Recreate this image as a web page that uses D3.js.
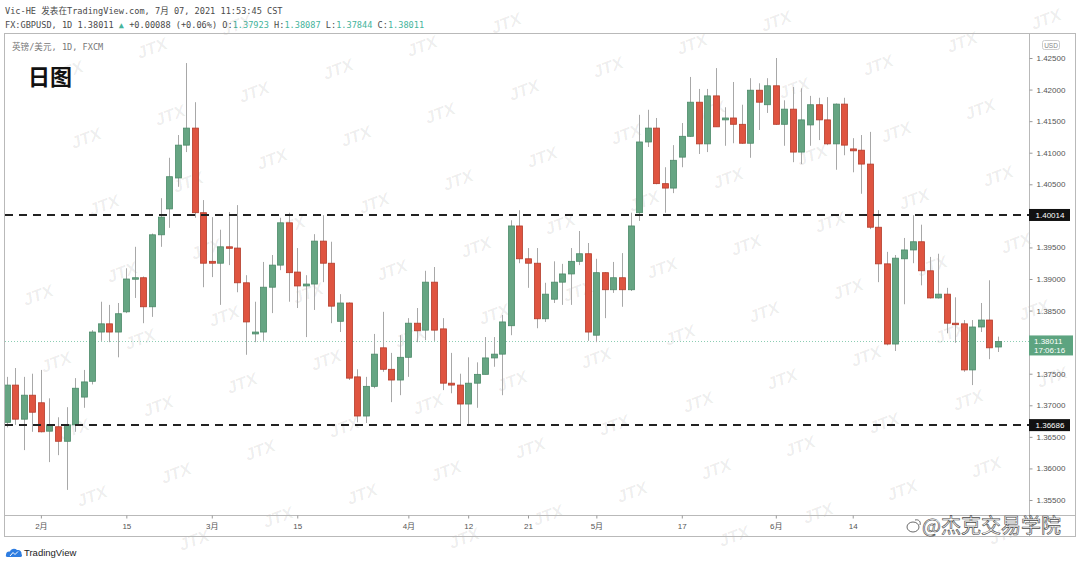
<!DOCTYPE html>
<html>
<head>
<meta charset="utf-8">
<script src="https://cdn.jsdelivr.net/npm/d3@7"></script>
<style>
body { margin: 0; background: #fff; }
svg { display: block; }
</style>
</head>
<body>
<div id="container"></div>
<script>
// daily GBP/USD candles, 26 Jan -> 7 Jul 2021
const opens = [1.3673,1.3732,1.3678,1.3716,1.3704,1.3659,1.3666,1.3643,1.3669,1.3713,
  1.3738,1.3816,1.3829,1.3816,1.3848,1.3900,1.3902,1.3856,1.3970,1.4011,
  1.4060,1.4112,1.4139,1.4005,1.3928,1.3925,1.3951,1.3949,1.3894,1.3813,
  1.3816,1.3887,1.3922,1.3989,1.3911,1.3889,1.3892,1.3960,1.3925,1.3833,
  1.3862,1.3745,1.3683,1.3730,1.3791,1.3757,1.3740,1.3776,1.3830,1.3819,
  1.3895,1.3821,1.3735,1.3732,1.3702,1.3735,1.3749,1.3775,1.3781,1.3826,
  1.3984,1.3932,1.3925,1.3837,1.3868,1.3895,1.3908,1.3928,1.3940,1.3811,
  1.3910,1.3883,1.3902,1.3883,1.4005,1.4117,1.4139,1.4051,1.4044,1.4093,
  1.4126,1.4180,1.4114,1.4190,1.4152,1.4155,1.4145,1.4115,1.4199,1.4176,
  1.4206,1.4145,1.4169,1.4101,1.4144,1.4176,1.4152,1.4114,1.4177,1.4106,
  1.4104,1.4082,1.3982,1.3924,1.3797,1.3932,1.3946,1.3959,1.3913,1.3870,
  1.3876,1.3830,1.3829,1.3756,1.3824,1.3835,1.37923];
const highs = [1.3745,1.3759,1.3745,1.3750,1.3756,1.3711,1.3681,1.3697,1.3743,1.3756,
  1.3819,1.3864,1.3859,1.3862,1.3917,1.3951,1.3904,1.3972,1.4028,1.4092,
  1.4128,1.4242,1.4180,1.4025,1.3998,1.3978,1.4006,1.4017,1.3906,1.3864,
  1.3927,1.3938,1.3997,1.4005,1.3949,1.3906,1.3971,1.4001,1.3959,1.3876,
  1.3863,1.3757,1.3745,1.3813,1.3848,1.3783,1.3811,1.3838,1.3854,1.3913,
  1.3919,1.3838,1.3783,1.3750,1.3776,1.3768,1.3808,1.3808,1.3843,1.3993,
  1.4009,1.3949,1.3949,1.3894,1.3928,1.3924,1.3949,1.3976,1.3957,1.3932,
  1.3911,1.3927,1.3941,1.4005,1.4160,1.4168,1.4155,1.4077,1.4112,1.4147,
  1.4220,1.4201,1.4201,1.4234,1.4172,1.4212,1.4176,1.4218,1.4210,1.4218,
  1.4250,1.4183,1.4204,1.4202,1.4190,1.4187,1.4188,1.4178,1.4187,1.4123,
  1.4128,1.4133,1.4009,1.3943,1.3938,1.3965,1.4001,1.3986,1.3935,1.3940,
  1.3886,1.3871,1.3835,1.3835,1.3862,1.3898,1.38087];
const lows = [1.3665,1.3669,1.3629,1.3658,1.3657,1.3610,1.3621,1.3566,1.3658,1.3696,
  1.3733,1.3802,1.3800,1.3776,1.3846,1.3870,1.3830,1.3840,1.3951,1.3981,
  1.4046,1.4101,1.3997,1.3887,1.3903,1.3859,1.3922,1.3879,1.3780,1.3800,
  1.3802,1.3846,1.3914,1.3864,1.3854,1.3808,1.3851,1.3895,1.3830,1.3816,
  1.3740,1.3673,1.3672,1.3727,1.3753,1.3705,1.3716,1.3745,1.3800,1.3803,
  1.3802,1.3724,1.3719,1.3669,1.3669,1.3696,1.3749,1.3761,1.3716,1.3811,
  1.3925,1.3886,1.3822,1.3832,1.3862,1.3859,1.3859,1.3922,1.3802,1.3800,
  1.3838,1.3878,1.3856,1.3881,1.3992,1.4109,1.4050,1.4005,1.4036,1.4077,
  1.4125,1.4098,1.4101,1.4141,1.4111,1.4115,1.4114,1.4092,1.4136,1.4163,
  1.4144,1.4111,1.4085,1.4082,1.4111,1.4120,1.4112,1.4073,1.4096,1.4069,
  1.4035,1.3979,1.3895,1.3795,1.3786,1.3860,1.3925,1.3890,1.3869,1.3869,
  1.3814,1.3799,1.3753,1.3732,1.3816,1.3773,1.37844];
const closes = [1.3732,1.3678,1.3716,1.3689,1.3658,1.3669,1.3643,1.3669,1.3727,1.3737,
  1.3816,1.3829,1.3816,1.3845,1.3900,1.3902,1.3856,1.3970,1.3998,1.4062,
  1.4112,1.4139,1.4005,1.3925,1.3925,1.3951,1.3949,1.3894,1.3832,1.3816,
  1.3887,1.3922,1.3989,1.3910,1.3889,1.3892,1.3960,1.3925,1.3857,1.3862,
  1.3743,1.3683,1.3730,1.3781,1.3757,1.3740,1.3776,1.3830,1.3818,1.3895,
  1.3819,1.3735,1.3732,1.3702,1.3735,1.3749,1.3775,1.3781,1.3832,1.3984,
  1.3932,1.3925,1.3837,1.3876,1.3895,1.3908,1.3928,1.3940,1.3816,1.3910,
  1.3883,1.3902,1.3883,1.3984,1.4117,1.4139,1.4051,1.4044,1.4088,1.4126,
  1.4180,1.4114,1.4190,1.4141,1.4155,1.4145,1.4115,1.4199,1.4180,1.4206,
  1.4145,1.4169,1.4101,1.4152,1.4176,1.4152,1.4114,1.4177,1.4112,1.4103,
  1.4082,1.3982,1.3924,1.3797,1.3933,1.3946,1.3959,1.3913,1.3870,1.3876,
  1.3830,1.3829,1.3756,1.3824,1.3835,1.3791,1.38011];

// time axis: bar index of each labelled day
const tickIdx = [4, 14, 24, 34, 47, 54, 61, 69, 79, 90, 99];
const tickLabels = ["2月", "15", "3月", "15", "4月", "12", "21", "5月", "17", "6月", "14"];

const priceTicks = [1.425, 1.42, 1.415, 1.41, 1.405, 1.40, 1.395, 1.39, 1.385, 1.38, 1.375, 1.37, 1.365, 1.36, 1.355];
const levels = [1.40014, 1.36686];
const lastPrice = 1.38011;

const W = 1080, H = 564;
const upFill = "#66a583", upLine = "#4c8a69";
const downFill = "#df5440", downLine = "#b43c2b";
const mono = "'DejaVu Sans Mono', 'Noto Sans CJK SC', monospace";
const sans = "'Liberation Sans', Arial, 'Noto Sans CJK SC', sans-serif";
const fmt = d3.format(".5f");

const svg = d3.select("#container").append("svg")
    .attr("width", W).attr("height", H)
    .style("background", "#fff");

const x = d3.scaleLinear().domain([0, opens.length - 1]).range([6.7, 998]);
const y = d3.scaleLinear().domain([1.355, 1.425]).range([500, 58]);

// header
svg.append("text").attr("x", 5).attr("y", 13.5)
    .style("font-family", mono).style("font-size", "8.6px").attr("fill", "#4a4a4a")
    .text("Vic-HE 发表在TradingView.com, 7月 07, 2021 11:53:45 CST");

const head2 = svg.append("text").attr("x", 5).attr("y", 27.5)
    .style("font-family", mono).style("font-size", "8.6px").attr("fill", "#4a4a4a");
const teal = "#45b49c";
[["FX:GBPUSD, 1D 1.38011 ", null], ["▲", teal], [" +0.00088 (+0.06%) O:", null], ["1.37923", teal],
 [" H:", null], ["1.38087", teal], [" L:", null], ["1.37844", teal], [" C:", null], ["1.38011", teal]]
    .forEach(p => {
        const t = head2.append("tspan").text(p[0]);
        if (p[1]) t.attr("fill", p[1]);
    });

// JTX watermark grid (behind the marks)
const marks = [];
for (let i = -4; i < 16; i++) {
    for (let j = -4; j < 10; j++) {
        const mx = 20 + 84 * i + 18 * j, my = 228 - 23 * i + 67 * j;
        if (mx > 22 && mx < W - 22 && my > 14 && my < H - 12) marks.push([mx, my]);
    }
}
svg.append("g").selectAll("text").data(marks).enter().append("text")
    .attr("transform", d => `translate(${d[0]},${d[1]}) rotate(-20)`)
    .attr("text-anchor", "middle").attr("dy", "0.35em")
    .style("font-family", sans).style("font-size", "17px").style("font-weight", 700)
    .style("font-style", "italic").attr("fill", "#000").attr("fill-opacity", 0.07)
    .text("JTX");

// pane frame
svg.append("rect").attr("x", 4.5).attr("y", 33.5).attr("width", 1071).attr("height", 503)
    .attr("fill", "none").attr("stroke", "#b9b9b9");
svg.append("line").attr("x1", 1029.5).attr("x2", 1029.5).attr("y1", 33.5).attr("y2", 536.5)
    .attr("stroke", "#b9b9b9");
svg.append("line").attr("x1", 4.5).attr("x2", 1075.5).attr("y1", 515.5).attr("y2", 515.5)
    .attr("stroke", "#b9b9b9");

svg.append("text").attr("x", 12).attr("y", 49.5)
    .style("font-family", mono).style("font-size", "8.6px").attr("fill", "#777")
    .text("英镑/美元, 1D, FXCM");

svg.append("text").attr("x", 28).attr("y", 85)
    .style("font-family", "'Noto Sans CJK SC', sans-serif").style("font-size", "22px")
    .style("font-weight", 700).attr("fill", "#111")
    .text("日图");

svg.append("defs").append("clipPath").attr("id", "plot")
    .append("rect").attr("x", 5).attr("y", 34).attr("width", 1024).attr("height", 481);

const plot = svg.append("g").attr("clip-path", "url(#plot)");

// last price dotted line
plot.append("line").attr("x1", 5).attr("x2", 1029)
    .attr("y1", Math.round(y(lastPrice)) + 0.5).attr("y2", Math.round(y(lastPrice)) + 0.5)
    .attr("stroke", "#8ccdb3").attr("stroke-dasharray", "1,2");

// candles
const bars = d3.range(opens.length).map(i => ({
    i, o: opens[i], h: highs[i], l: lows[i], c: closes[i], up: closes[i] >= opens[i]
}));

const candle = plot.selectAll("g.candle").data(bars).enter()
    .append("g").attr("class", "candle");

candle.append("line")
    .attr("x1", d => Math.round(x(d.i)) + 0.5).attr("x2", d => Math.round(x(d.i)) + 0.5)
    .attr("y1", d => y(d.h)).attr("y2", d => y(d.l))
    .attr("stroke", "#a8a8a8").attr("stroke-width", 1);

candle.append("rect")
    .attr("x", d => Math.round(x(d.i)) - 2.5)
    .attr("width", 6)
    .attr("y", d => y(Math.max(d.o, d.c)))
    .attr("height", d => Math.max(1.5, Math.abs(y(d.o) - y(d.c))))
    .attr("fill", d => d.up ? upFill : downFill)
    .attr("stroke", d => d.up ? upLine : downLine)
    .attr("stroke-width", 0.8);

// support / resistance
plot.selectAll("line.level").data(levels).enter()
    .append("line").attr("class", "level")
    .attr("x1", 5).attr("x2", 1029)
    .attr("y1", d => y(d)).attr("y2", d => y(d))
    .attr("stroke", "#222").attr("stroke-width", 2).attr("stroke-dasharray", "8,6");

// price axis; labels hidden under the price boxes are left blank
const covered = v => [lastPrice].concat(levels).some(p => Math.abs(y(p) - y(v)) < 8);
const yAxis = svg.append("g").attr("transform", "translate(1029.5,0)")
    .call(d3.axisRight(y).tickValues(priceTicks).tickFormat(d => covered(d) ? "" : fmt(d))
        .tickSize(3).tickPadding(4));
yAxis.select(".domain").remove();
yAxis.selectAll("line").attr("stroke", "#9a9a9a");
yAxis.selectAll("text").style("font-family", sans).style("font-size", "8px").attr("fill", "#555");

svg.append("rect").attr("x", 1042.5).attr("y", 40.5).attr("width", 17).attr("height", 9).attr("rx", 2)
    .attr("fill", "#fff").attr("stroke", "#ccc");
svg.append("text").attr("x", 1051).attr("y", 47.5).attr("text-anchor", "middle")
    .style("font-family", sans).style("font-size", "6.5px").attr("fill", "#888").text("USD");

const lvlLab = svg.selectAll("g.lvl").data(levels).enter().append("g").attr("class", "lvl")
    .attr("transform", d => `translate(1029,${y(d)})`);
lvlLab.append("rect").attr("x", 0).attr("y", -6).attr("width", 41).attr("height", 12).attr("fill", "#111");
lvlLab.append("text").attr("x", 21).attr("y", 3).attr("text-anchor", "middle")
    .style("font-family", sans).style("font-size", "8px").attr("fill", "#fff")
    .text(d => fmt(d));

const cur = svg.append("g").attr("transform", `translate(1029,${y(lastPrice)})`);
cur.append("rect").attr("x", 0).attr("y", -6).attr("width", 44).attr("height", 20).attr("fill", "#5da480");
cur.append("text").attr("x", 5).attr("y", 3).style("font-family", sans).style("font-size", "8px")
    .attr("fill", "#fff").text(fmt(lastPrice));
cur.append("text").attr("x", 5).attr("y", 12).style("font-family", sans).style("font-size", "8px")
    .attr("fill", "#fff").text("17:06:16");

// time axis
const xAxis = svg.append("g").attr("transform", "translate(0,515.5)")
    .call(d3.axisBottom(x).tickValues(tickIdx).tickFormat((d, i) => tickLabels[i]).tickSize(3).tickPadding(5));
xAxis.select(".domain").remove();
xAxis.selectAll("line").attr("stroke", "#9a9a9a");
xAxis.selectAll("text").style("font-family", sans).style("font-size", "8px").attr("fill", "#555");

// TradingView logo
const logo = svg.append("g").attr("transform", "translate(5,548)");
logo.append("path")
    .attr("d", "M1,7 C1,4 3,3 5,3.5 C6,0.5 10,0 12,2 C14,1.5 17,3 16.5,6 C17.5,7 17,9 15.5,9 L2.5,9 C1,9 0.5,8 1,7 Z")
    .attr("fill", "#2e7de1");
logo.append("path").attr("d", "M5,8 L8,4.5 L10,6.5 L13,3.5").attr("fill", "none")
    .attr("stroke", "#fff").attr("stroke-width", 1);
svg.append("text").attr("x", 24).attr("y", 555.5)
    .style("font-family", sans).style("font-size", "9.5px").attr("fill", "#222").text("TradingView");

// weibo watermark
const wb = svg.append("g").attr("transform", "translate(913,526)");
wb.append("ellipse").attr("cx", 0).attr("cy", 1).attr("rx", 6).attr("ry", 5)
    .attr("fill", "#fff").attr("stroke", "#444").attr("stroke-width", 0.8);
wb.append("path").attr("d", "M2,-6 C6,-7 8,-4 7,-1").attr("fill", "none").attr("stroke", "#444").attr("stroke-width", 0.8);
svg.append("text").attr("x", 922).attr("y", 533)
    .style("font-family", "'Noto Sans CJK SC', sans-serif").style("font-size", "20px")
    .attr("fill", "#fff").attr("stroke", "#444").attr("stroke-width", 0.6)
    .text("@杰克交易学院");
</script>
</body>
</html>
